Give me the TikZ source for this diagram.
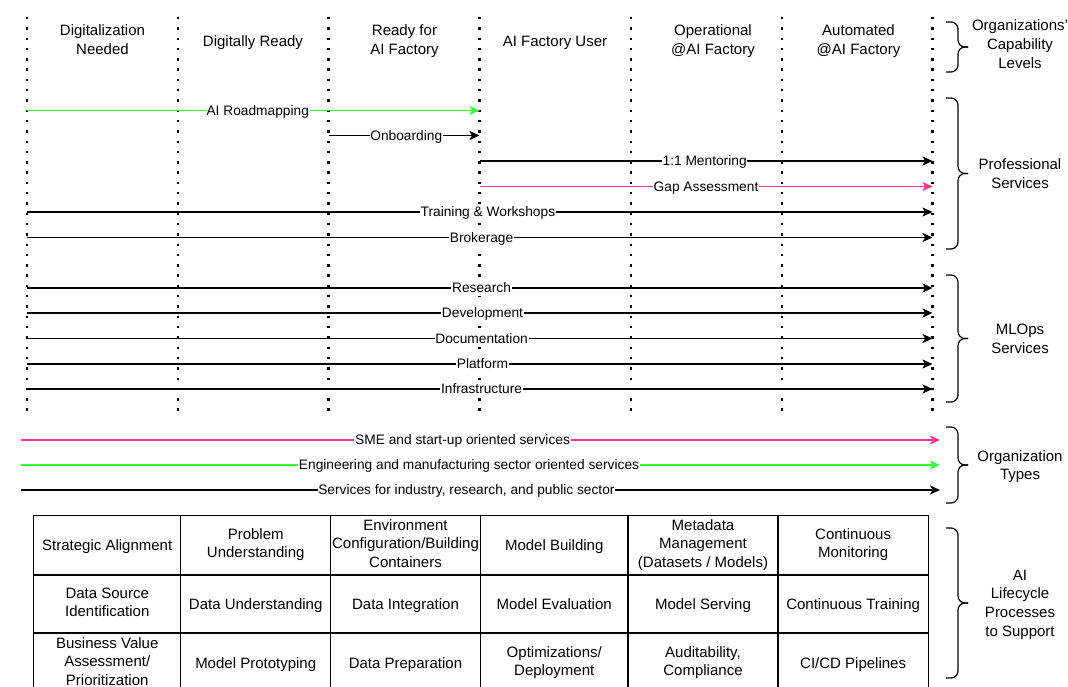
\documentclass[tikz,border=0pt]{standalone}
\usepackage{fontspec}
\setmainfont{Liberation Sans}
\usetikzlibrary{arrows.meta}
\definecolor{pgreen}{HTML}{33FF33}
\definecolor{ppink}{HTML}{FF3399}
\newcommand\dstrut{\rule[-0.2535em]{0pt}{1.2em}}
\begin{document}
\begin{tikzpicture}[x=1pt,y=-1pt,
  struts/.style={execute at begin node=\dstrut, execute at end node=\dstrut},
  hdr/.style={font=\fontsize{15}{18.7}\selectfont, align=center, inner sep=0pt, struts},
  lbl/.style={font=\fontsize{13.75}{16.5}\selectfont, fill=white, inner xsep=0.8pt, inner ysep=0pt, struts},
  conn/.style={line width=1.4pt, -{Stealth[length=10pt,width=9pt,inset=2.5pt]}},
  lane/.style={line width=2.4pt, dash pattern=on 2.4pt off 7.9pt},
  brace/.style={line width=1.2pt, rounded corners=7pt},
  cell/.style={draw, line width=1.3pt, inner sep=0pt, outer sep=0pt, align=center,
    font=\fontsize{15}{18.5}\selectfont, struts}
]
\useasboundingbox (0,0) rectangle (1068,687);
\clip (0,0) rectangle (1068,687);
\fill[white] (0,0) rectangle (1068,687);

% lanes (capability level boundaries)
\foreach \n/\x in {0/27,1/178,2/328.5,3/479.5,4/631,5/782,6/932.5}{
  \coordinate (T\n) at (\x,17);
  \coordinate (B\n) at (\x,413);
  \draw[lane] (T\n) -- (B\n);
}

% headers
\node[hdr] (h1) at (102.5,41.3) {Digitalization\\Needed};
\node[hdr] (h2) at (253,41.3) {Digitally Ready};
\node[hdr] (h3) at (404.5,41.3) {Ready for\\AI Factory};
\node[hdr] (h4) at (555,41.3) {AI Factory User};
\node[hdr] (h5) at (713,41.3) {Operational\\@AI Factory};
\node[hdr] (h6) at (858.5,41.3) {Automated\\@AI Factory};

% professional services
\coordinate (s1) at (27,110.5);    \coordinate (e1) at (479.5,110.5);
\coordinate (s2) at (328.5,135.5); \coordinate (e2) at (479.5,135.5);
\coordinate (s3) at (479.5,161);  \coordinate (e3) at (932.5,161);
\coordinate (s4) at (479.5,186.5); \coordinate (e4) at (932.5,186.5);
\coordinate (s5) at (27,212);    \coordinate (e5) at (932.5,212);
\coordinate (s6) at (27,237.5);  \coordinate (e6) at (932.5,237.5);
\draw[conn, pgreen] (s1) -- node[lbl, text=black, pos=0.51] (l1) {AI Roadmapping} (e1);
\draw[conn] (s2) -- node[lbl, pos=0.515] (l2) {Onboarding} (e2);
\draw[conn] (s3) -- node[lbl, pos=0.497] (l3) {1:1 Mentoring} (e3);
\draw[conn, ppink] (s4) -- node[lbl, text=black, pos=0.5] (l4) {Gap Assessment} (e4);
\draw[conn] (s5) -- node[lbl, pos=0.509] (l5) {Training \& Workshops} (e5);
\draw[conn] (s6) -- node[lbl, pos=0.502] (l6) {Brokerage} (e6);

% MLOps services
\coordinate (s7) at (27,288);    \coordinate (e7) at (932.5,288);
\coordinate (s8) at (27,313);    \coordinate (e8) at (932.5,313);
\coordinate (s9) at (27,338.5);  \coordinate (e9) at (932.5,338.5);
\coordinate (s10) at (27,364);   \coordinate (e10) at (932.5,364);
\coordinate (s11) at (27,389);   \coordinate (e11) at (932.5,389);
\draw[conn] (s7) -- node[lbl, pos=0.502] (l7) {Research} (e7);
\draw[conn] (s8) -- node[lbl, pos=0.503] (l8) {Development} (e8);
\draw[conn] (s9) -- node[lbl, pos=0.502] (l9) {Documentation} (e9);
\draw[conn] (s10) -- node[lbl, pos=0.503] (l10) {Platform} (e10);
\draw[conn] (s11) -- node[lbl, pos=0.502] (l11) {Infrastructure} (e11);

% organization types
\coordinate (s12) at (21,440);   \coordinate (e12) at (940,440);
\coordinate (s13) at (21,465);   \coordinate (e13) at (940,465);
\coordinate (s14) at (21,490);   \coordinate (e14) at (940,490);
\draw[conn, ppink] (s12) -- node[lbl, text=black, pos=0.4805] (l12) {SME and start-up oriented services} (e12);
\draw[conn, pgreen] (s13) -- node[lbl, text=black, pos=0.4875] (l13) {Engineering and manufacturing sector oriented services} (e13);
\draw[conn] (s14) -- node[lbl, pos=0.4847] (l14) {Services for industry, research, and public sector} (e14);

% braces
\foreach \t/\m/\b in {22/47/72, 98/173.5/249, 275/338.5/402, 427/465/503, 528/603/678}{
  \draw[brace] (946,\t) -- (958,\t) -- (958,\m) -- (968,\m);
  \draw[brace] (968,\m) -- (958,\m) -- (958,\b) -- (946,\b);
}
\node[hdr] (g1) at (1020,46) {Organizations'\\Capability\\Levels};
\node[hdr] (g2) at (1020,175.5) {Professional\\Services};
\node[hdr] (g3) at (1020,340.5) {MLOps\\Services};
\node[hdr] (g4) at (1020,467) {Organization\\Types};
\node[hdr] (g5) at (1020,605) {AI\\Lifecycle\\Processes\\to Support};

% lifecycle table
\node[cell, minimum width=147.1pt, minimum height=59.7pt] (c11) at (107.25,545.15) {Strategic Alignment};
\node[cell, minimum width=149.8pt, minimum height=59.7pt] (c12) at (255.7,545.15) {Problem\\Understanding};
\node[cell, minimum width=149.8pt, minimum height=59.7pt] (c13) at (405.5,545.15) {Environment\\Configuration/Building\\Containers};
\node[cell, minimum width=147.7pt, minimum height=59.7pt] (c14) at (554.25,545.15) {Model Building};
\node[cell, minimum width=149.8pt, minimum height=59.7pt] (c15) at (703,545.15) {Metadata\\Management\\(Datasets / Models)};
\node[cell, minimum width=150.5pt, minimum height=59.7pt] (c16) at (853.15,545.15) {Continuous\\Monitoring};

\node[cell, minimum width=147.1pt, minimum height=58pt] (c21) at (107.25,604) {Data Source\\Identification};
\node[cell, minimum width=149.8pt, minimum height=58pt] (c22) at (255.7,604) {Data Understanding};
\node[cell, minimum width=149.8pt, minimum height=58pt] (c23) at (405.5,604) {Data Integration};
\node[cell, minimum width=147.7pt, minimum height=58pt] (c24) at (554.25,604) {Model Evaluation};
\node[cell, minimum width=149.8pt, minimum height=58pt] (c25) at (703,604) {Model Serving};
\node[cell, minimum width=150.5pt, minimum height=58pt] (c26) at (853.15,604) {Continuous Training};

\node[cell, minimum width=147.1pt, minimum height=60pt] (c31) at (107.25,663) {Business Value\\Assessment/\\Prioritization};
\node[cell, minimum width=149.8pt, minimum height=60pt] (c32) at (255.7,663) {Model Prototyping};
\node[cell, minimum width=149.8pt, minimum height=60pt] (c33) at (405.5,663) {Data Preparation};
\node[cell, minimum width=147.7pt, minimum height=60pt] (c34) at (554.25,663) {Optimizations/\\Deployment};
\node[cell, minimum width=149.8pt, minimum height=60pt] (c35) at (703,663) {Auditability,\\Compliance};
\node[cell, minimum width=150.5pt, minimum height=60pt] (c36) at (853.15,663) {CI/CD Pipelines};
\end{tikzpicture}
\end{document}
